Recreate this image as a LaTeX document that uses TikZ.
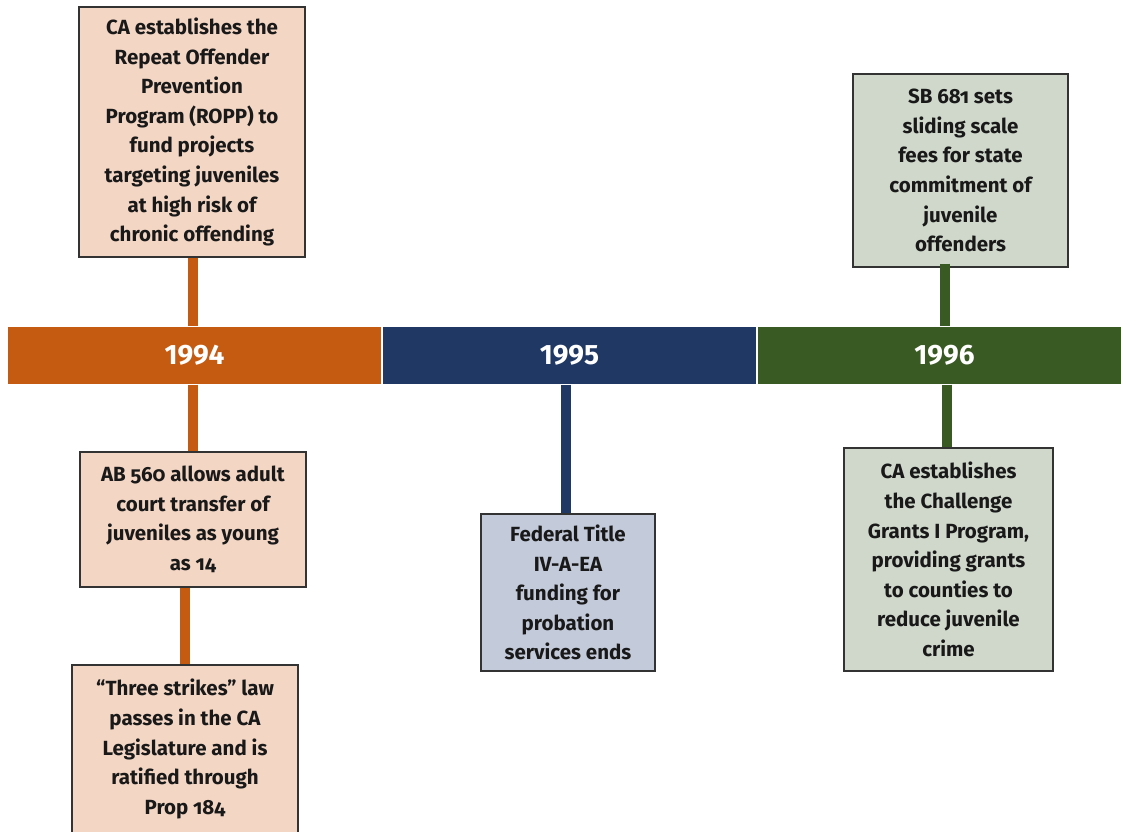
\documentclass[tikz,border=0pt]{standalone}
\usepackage{fontspec}
\setmainfont{Fira Sans}[Numbers=OldStyle]
\newfontfamily\yearfont{Fira Sans}
\definecolor{c94}{HTML}{C55A11}
\definecolor{c95}{HTML}{203864}
\definecolor{c96}{HTML}{3A5A24}
\definecolor{f94}{HTML}{F3D6C4}
\definecolor{f95}{HTML}{C3CADA}
\definecolor{f96}{HTML}{CFD8CB}
\tikzset{
  yearbar/.style={draw=white, line width=1pt, minimum height=58, inner sep=0,
    text=white, font=\yearfont\bfseries\fontsize{28}{30}\selectfont},
  eventbox/.style={draw=black!80, line width=1.3pt, inner sep=0, align=center,
    font=\bfseries\fontsize{20.5}{29.6}\selectfont, text=black!90},
  stem/.style={line width=10pt}
}
\begin{document}
\begin{tikzpicture}[x=1pt, y=-1pt]
\useasboundingbox (0,0) rectangle (1121,831);
\clip (0,0) rectangle (1121,831);
\fill[white] (0,0) rectangle (1121,831);

% timeline segments
\node[yearbar, fill=c94, minimum width=374] (y94) at (194.5,355) {1994};
\node[yearbar, fill=c95, minimum width=374] (y95) at (569.5,355) {1995};
\node[yearbar, fill=c96, minimum width=374] (y96) at (944.5,355) {1996};

% event boxes
\node[eventbox, fill=f94, minimum width=226, minimum height=250] (b1) at (192,132)
  {CA establishes the\\Repeat Offender\\Prevention\\Program (ROPP) to\\fund projects\\targeting juveniles\\at high risk of\\chronic offending};
\node[eventbox, fill=f94, minimum width=226, minimum height=135] (b2) at (193,519.5)
  {AB 560 allows adult\\court transfer of\\juveniles as young\\as 14};
\node[eventbox, fill=f94, minimum width=226, minimum height=168] (b3) at (185,749)
  {“Three strikes” law\\passes in the CA\\Legislature and is\\ratified through\\Prop 184};
\node[eventbox, fill=f95, minimum width=174, minimum height=157] (b4) at (568,592.5)
  {Federal Title\\IV-A-EA\\funding for\\probation\\services ends};
\node[eventbox, fill=f96, minimum width=215, minimum height=193] (b5) at (960.5,170.5)
  {SB 681 sets\\sliding scale\\fees for state\\commitment of\\juvenile\\offenders};
\node[eventbox, fill=f96, minimum width=209, minimum height=223] (b6) at (948.5,559.5)
  {CA establishes\\the Challenge\\Grants I Program,\\providing grants\\to counties to\\reduce juvenile\\crime};

% stems joining boxes to the timeline
\coordinate (s94) at (193,355);
\coordinate (s95) at (566,355);
\coordinate (s96a) at (945,355);
\coordinate (s96b) at (947,355);
\draw[stem, c94] (b1.south -| s94) -- (y94.north -| s94);
\draw[stem, c94] (y94.south -| s94) -- (b2.north -| s94);
\draw[stem, c94] (b3.north) -- (b3.north |- b2.south);
\draw[stem, c95] (y95.south -| s95) -- (b4.north -| s95);
\draw[stem, c96] ([yshift=4pt]b5.south -| s96a) -- (y96.north -| s96a);
\draw[stem, c96] (y96.south -| s96b) -- (b6.north -| s96b);
\end{tikzpicture}
\end{document}
